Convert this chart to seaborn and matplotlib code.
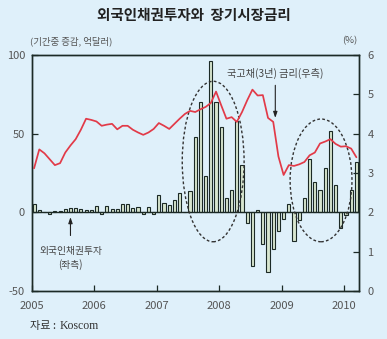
import numpy as np
import pandas as pd
import matplotlib
matplotlib.use("Agg")
import matplotlib.pyplot as plt
from matplotlib.patches import Ellipse
import seaborn as sns

# ---- data ----
years = ["2005", "2006", "2007", "2008", "2009", "2010"]
bond_inv = [5, 1.5, 0, -1, 1, 1, 2, 3, 3, 2, 1.5, 1.5,
            4, -1, 4, 2, 2, 5.5, 5, 3, 3.5, -1, 3.5, -1,
            11, 6, 4.5, 8, 12, 0.5, 13.5, 48, 70, 23, 96, 70,
            54, 9, 14, 58, 30, -6.5, -34, 1.5, -20, -38, -23, -12,
            -4, 5.5, -18, -5, 9, 34, 19.5, 14, 28, 52, 17.5, -10,
            -2, 14, 32]
rate_3y = [3.12, 3.60, 3.50, 3.35, 3.20, 3.25, 3.52, 3.70, 3.86, 4.10, 4.38, 4.35,
           4.31, 4.20, 4.23, 4.25, 4.11, 4.20, 4.20, 4.10, 4.03, 3.97, 4.03, 4.12,
           4.27, 4.20, 4.12, 4.25, 4.38, 4.50, 4.58, 4.55, 4.62, 4.68, 4.78, 5.07,
           4.72, 4.38, 4.42, 4.30, 4.55, 4.85, 5.12, 4.97, 4.98, 4.40, 4.30, 3.42,
           2.95, 3.20, 3.18, 3.22, 3.28, 3.45, 3.52, 3.75, 3.80, 3.86, 3.74, 3.67,
           3.68, 3.62, 3.40]
month = list(range(len(bond_inv)))
left_ticks = [-50, 0, 50, 100]
right_ticks = [0, 1, 2, 3, 4, 5, 6]

df = pd.DataFrame({"month": month, "inv": bond_inv, "rate": rate_3y})

# ---- style ----
BG = "#dff0fa"
sns.set_style("ticks")
plt.rcParams["font.family"] = ["Noto Sans CJK KR", "DejaVu Sans"]
plt.rcParams["axes.unicode_minus"] = False

fig = plt.figure(figsize=(3.87, 3.39), dpi=100, facecolor=BG)
ax = fig.add_axes([32/387, 1-291/339, (359-32)/387, (291-55)/339])
ax.set_facecolor(BG)

sns.barplot(data=df, x="month", y="inv", ax=ax, color="#d8e6cf",
            edgecolor="#1c2a26", linewidth=0.8, width=0.6, saturation=1)
ax.axhline(0, color="#1c2a26", lw=1.0, zorder=3)

ax2 = ax.twinx()
sns.lineplot(data=df, x="month", y="rate", ax=ax2, color="#e23a48", lw=1.25)

ax.set_ylim(-50, 100)
ax2.set_ylim(0, 6)
ax.set_xlim(-0.4, 62.5)
ax.set_yticks(left_ticks)
ax2.set_yticks(right_ticks)
ax.set_xticks([12*i - 0.4 for i in range(len(years))])
ax.set_xticklabels(years)
for a in (ax, ax2):
    a.set_xlabel("")
    a.set_ylabel("")
    for s in a.spines.values():
        s.set_visible(True)
        s.set_color("#1c2a26")
        s.set_linewidth(1.0)
ax.tick_params(axis="both", direction="in", length=4, width=0.9, colors="#1c2a26",
               labelcolor="#555555", labelsize=8)
ax.tick_params(axis="x", pad=7)
ax.tick_params(axis="y", pad=5)
ax2.tick_params(axis="y", direction="in", length=4, width=0.9, colors="#1c2a26",
                labelcolor="#555555", labelsize=8, pad=6)

# dashed ellipses
for cx, cy, w, h in [(34.45, 32.3, 11.9, 102), (55.2, 20.3, 11.9, 78)]:
    ax.add_patch(Ellipse((cx, cy), w, h, fill=False, edgecolor="#333333",
                         lw=1.0, ls=(0, (2, 1.6)), zorder=5))

# annotations
ax2.annotate("", xy=(46.4, 4.33), xytext=(46.4, 5.3),
             arrowprops=dict(arrowstyle="-|>,head_length=0.35,head_width=0.12",
                             color="#222222", lw=0.8))
ax2.text(46.3, 5.54, "국고채(3년) 금리(우측)", ha="center", va="center",
         fontsize=7.3, color="#444444")
ax.annotate("", xy=(7.0, -1.3), xytext=(7.0, -16.5),
            arrowprops=dict(arrowstyle="-|>,head_length=0.35,head_width=0.12",
                            color="#222222", lw=0.8))
ax.text(7.0, -29, "외국인채권투자\n(좌측)", ha="center", va="center",
        fontsize=7, color="#444444", linespacing=1.25)

# titles and labels
fig.text(194/387, 1-15/339, "외국인채권투자와  장기시장금리", ha="center", va="center",
         fontsize=10.5, fontweight="bold", color="#222222")
fig.text(30/387, 1-41/339, "(기간중 증감, 억달러)", ha="left", va="center",
         fontsize=6.8, color="#555555")
fig.text(357/387, 1-41/339, "(%)", ha="right", va="center",
         fontsize=6.8, color="#555555")
fig.text(30/387, 1-326/339, "자료 :", ha="left", va="center",
         fontsize=8, color="#333333")
fig.text(60/387, 1-326/339, "Koscom", ha="left", va="center",
         fontsize=8.5, color="#333333", family=["Liberation Serif", "DejaVu Serif"])

fig.savefig("out.png", dpi=100, facecolor=BG)
